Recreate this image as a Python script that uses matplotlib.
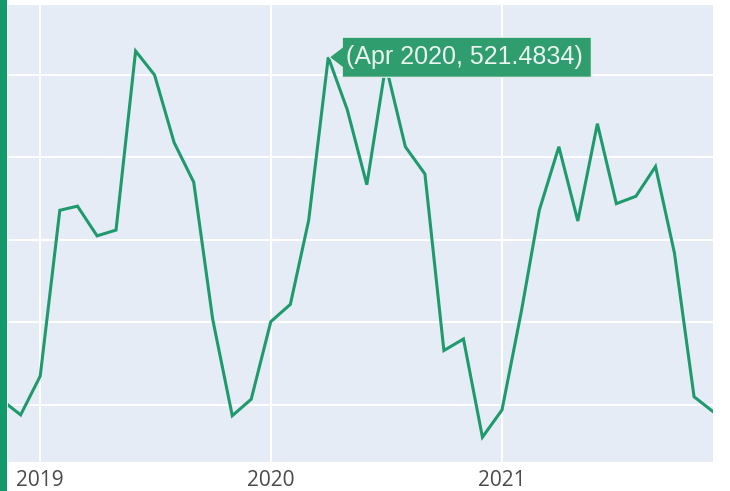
import matplotlib
matplotlib.use("Agg")
import matplotlib.pyplot as plt
import matplotlib.dates as mdates
from matplotlib.patches import Polygon
import pandas as pd

months = pd.date_range("2018-11-01", "2021-12-01", freq="MS")
values = [106, 88,
          135, 336, 341, 305, 312, 529, 500, 418, 370, 204, 87, 107,
          201, 222, 324, 521.4834, 458, 367, 512, 413, 380, 166, 180, 61,
          94, 215, 336, 413, 323, 441, 344, 353, 389, 284, 110, 92]
tick_years = ["2019-01-01", "2020-01-01", "2021-01-01"]
tick_labels = ["2019", "2020", "2021"]
y_grid = [100, 200, 300, 400, 500]
hover_label = "(Apr 2020, 521.4834)"
hover_x = pd.Timestamp("2020-04-01")
hover_y = 521.4834

W, H = 730, 491
fig = plt.figure(figsize=(W / 100, H / 100), dpi=100)
fig.patch.set_facecolor("white")
ax = fig.add_axes([8 / W, (H - 462) / H, (713 - 8) / W, (462 - 5) / H])
ax.set_facecolor("#E5ECF6")

ax.plot(months, values, color="#1f9a6c", lw=2.2, solid_joinstyle="miter", zorder=3)

ax.set_xlim(pd.Timestamp("2018-11-11"), pd.Timestamp("2021-12-01"))
ax.set_ylim(30.9, 584.8)
ax.set_xticks(pd.to_datetime(tick_years))
ax.set_xticklabels(tick_labels, fontfamily="Open Sans", fontsize=15, color="#4a4a4a")
ax.set_yticks(y_grid)
ax.set_yticklabels([])
ax.tick_params(length=0, pad=6)
ax.grid(True, color="white", lw=1.5, zorder=0)
ax.set_axisbelow(True)
for s in ax.spines.values():
    s.set_visible(False)

# green bar at left edge
fig.patches.append(Polygon([[0, 0], [7 / W, 0], [7 / W, 1], [0, 1]], closed=True,
                           transform=fig.transFigure, facecolor="#139a6a", edgecolor="none"))

# hover tooltip
fig.canvas.draw()
px, py = ax.transData.transform((mdates.date2num(hover_x), hover_y))
tip = (px + 1, py)
box_l, box_r = px + 14, px + 263
box_t, box_b = py + 20, py - 20
verts = [tip, (box_l, py + 10), (box_l, box_t), (box_r, box_t), (box_r, box_b),
         (box_l, box_b), (box_l, py - 10)]
poly = Polygon(verts, closed=True, facecolor="#2f9d6d", edgecolor="#e8f2ee", lw=0.8,
               transform=None, zorder=10)
fig.patches.append(poly)
fig.text((box_l + 4) / W, py / H, hover_label, fontfamily="Liberation Sans", fontsize=18,
         color="#eaf6ef", va="center", ha="left", zorder=11)

fig.savefig("out.png", dpi=100)
